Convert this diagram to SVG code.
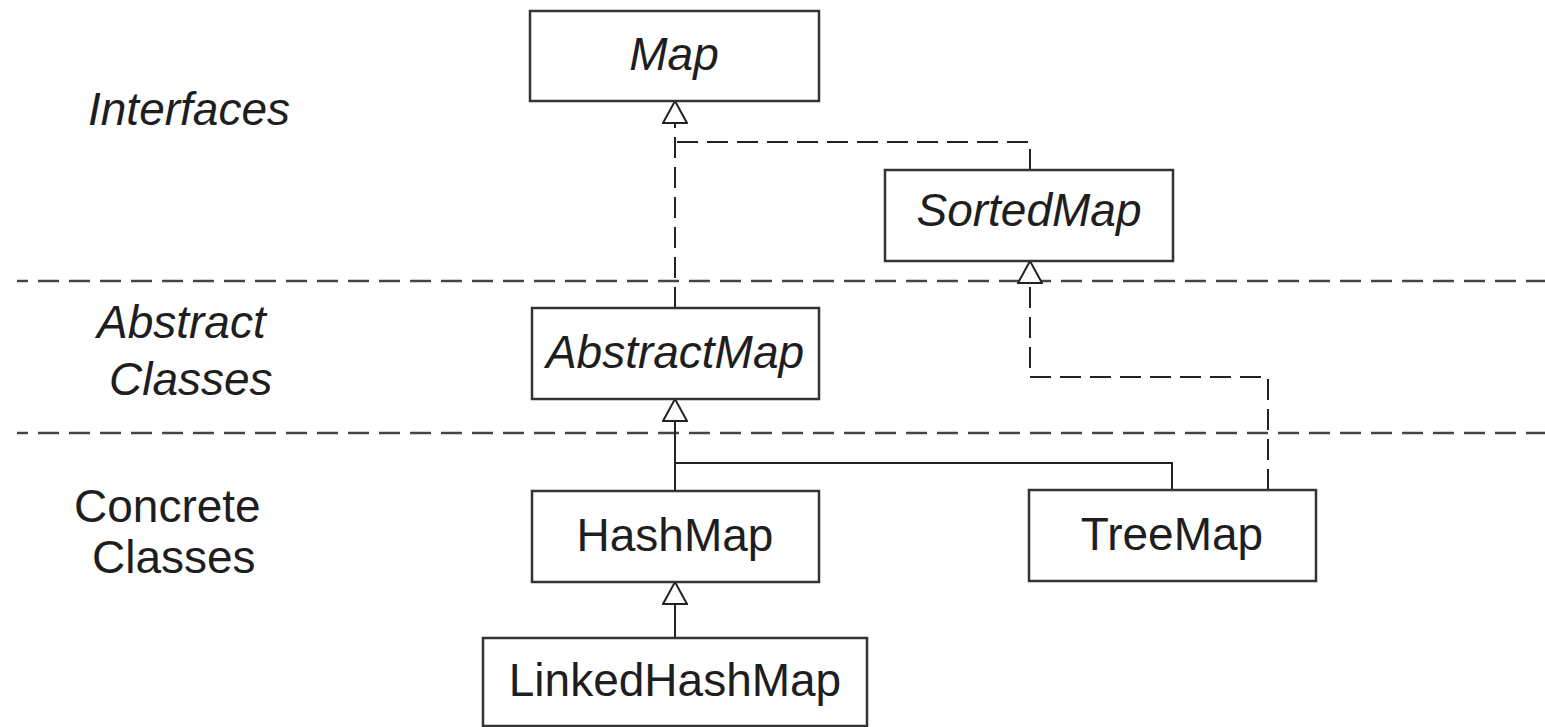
<svg xmlns="http://www.w3.org/2000/svg" width="1545" height="727" viewBox="0 0 1545 727">
<style>
.box{fill:#fff;stroke:#333;stroke-width:2.5}
.t{font-family:"Liberation Sans",Arial,sans-serif;font-size:46px;fill:#1e1e1e;text-anchor:middle}
.lbl{font-family:"Liberation Sans",Arial,sans-serif;font-size:46px;fill:#1e1e1e}
.i{font-style:italic}
.sep{stroke:#444;stroke-width:2.5;stroke-dasharray:21 10;stroke-dashoffset:10;fill:none}
.c{stroke:#222;stroke-width:2;fill:none}
.d{stroke-dasharray:21 9}
</style>
<defs>
<marker id="tri" markerUnits="userSpaceOnUse" viewBox="-1 -1 26 26" markerWidth="26" markerHeight="26" refX="22" refY="12" orient="auto">
<path d="M0,0 L22,12 L0,24 Z" fill="#fff" stroke="#222" stroke-width="2" stroke-dasharray="none"/>
</marker>
</defs>
<g id="separators">
<line class="sep" x1="17" y1="281" x2="1545" y2="281"/>
<line class="sep" x1="17" y1="433" x2="1545" y2="433"/>
</g>
<g id="labels">
<text class="lbl i" x="88" y="125">Interfaces</text>
<text class="lbl i" x="97" y="338">Abstract</text>
<text class="lbl i" x="109" y="395">Classes</text>
<text class="lbl" x="74" y="522">Concrete</text>
<text class="lbl" x="92" y="573">Classes</text>
</g>
<g id="connectors">
<path class="c d" d="M675,308 V101" marker-end="url(#tri)"/>
<path class="c d" d="M1030,170 V142 H675"/>
<path class="c d" d="M1268,490 V377 H1030 V261" marker-end="url(#tri)"/>
<path class="c" d="M675,491 V399" marker-end="url(#tri)"/>
<path class="c" d="M1172,490 V463 H675"/>
<path class="c" d="M675,638 V582" marker-end="url(#tri)"/>
</g>
<g id="Map">
<rect class="box" x="530" y="11" width="289" height="90"/>
<text class="t i" x="674" y="70">Map</text>
</g>
<g id="SortedMap">
<rect class="box" x="885" y="170" width="288" height="91"/>
<text class="t i" x="1029" y="226">SortedMap</text>
</g>
<g id="AbstractMap">
<rect class="box" x="532" y="308" width="287" height="91"/>
<text class="t i" x="675" y="368">AbstractMap</text>
</g>
<g id="HashMap">
<rect class="box" x="532" y="491" width="287" height="91"/>
<text class="t" x="675" y="551">HashMap</text>
</g>
<g id="TreeMap">
<rect class="box" x="1029" y="490" width="287" height="91"/>
<text class="t" x="1172" y="550">TreeMap</text>
</g>
<g id="LinkedHashMap">
<rect class="box" x="483" y="638" width="384" height="88"/>
<text class="t" x="675" y="696">LinkedHashMap</text>
</g>
</svg>
